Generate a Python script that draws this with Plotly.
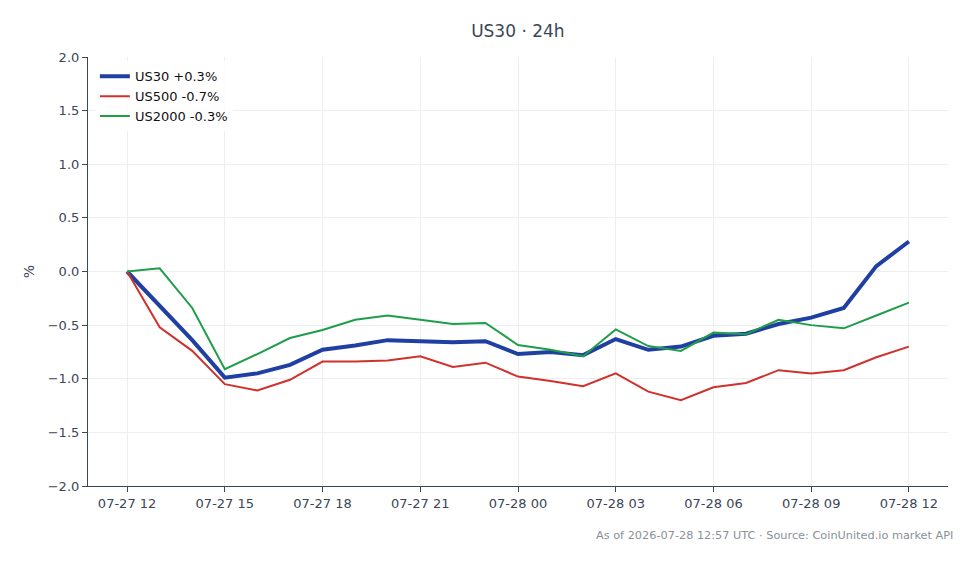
import plotly.graph_objects as go
import pandas as pd

times = pd.date_range("2026-07-27 12:00", "2026-07-28 12:00", freq="h")
us30 = [0.0, -0.32, -0.64, -0.99, -0.95, -0.87, -0.73, -0.69, -0.64, -0.65, -0.66, -0.65,
        -0.77, -0.75, -0.78, -0.63, -0.73, -0.70, -0.60, -0.58, -0.49, -0.43, -0.34, 0.05, 0.28]
us500 = [0.0, -0.52, -0.74, -1.05, -1.11, -1.01, -0.84, -0.84, -0.83, -0.79, -0.89, -0.85,
         -0.98, -1.02, -1.07, -0.95, -1.12, -1.20, -1.08, -1.04, -0.92, -0.95, -0.92, -0.80, -0.70]
us2000 = [0.0, 0.03, -0.34, -0.91, -0.77, -0.62, -0.545, -0.45, -0.41, -0.45, -0.49, -0.48,
          -0.685, -0.73, -0.79, -0.54, -0.695, -0.74, -0.57, -0.585, -0.45, -0.50, -0.53, -0.41, -0.29]
names = ["US30 +0.3%", "US500 -0.7%", "US2000 -0.3%"]
colors = ["#1f3fa3", "#d0312d", "#1f9d49"]
widths = [4, 2, 2]

FONT = "DejaVu Sans"
fig = go.Figure()
for vals, nm, c, w in zip([us30, us500, us2000], names, colors, widths):
    fig.add_trace(go.Scatter(x=times, y=vals, mode="lines", name=nm,
                             line=dict(color=c, width=w)))

fig.add_shape(type="line", xref="paper", x0=0, x1=1, yref="y", y0=0, y1=0,
              line=dict(color="#8c99a8", width=1.2, dash="dash"), layer="below")

pad = pd.Timedelta(minutes=72)
fig.update_layout(
    width=979, height=564,
    margin=dict(l=88, r=31, t=57, b=78),
    paper_bgcolor="white", plot_bgcolor="white",
    font=dict(family=FONT, size=13, color="#3b4656"),
    title=dict(text="US30 · 24h", x=0.529, xanchor="center", y=0.945, yanchor="middle",
               font=dict(family=FONT, size=17, color="#3b4656")),
    showlegend=True,
    legend=dict(x=0.008, y=0.99, xanchor="left", yanchor="top", bgcolor="rgba(255,255,255,0.8)",
                font=dict(family=FONT, size=13, color="#111111"), tracegroupgap=0,
                itemwidth=30),
    xaxis=dict(range=[times[0] - pad, times[-1] + pad], tickformat="%m-%d %H",
               dtick=3 * 3600 * 1000, tick0=times[0],
               showgrid=True, gridcolor="#eceef1", gridwidth=1,
               showline=True, linecolor="#3b4656", linewidth=1.2,
               ticks="outside", ticklen=5, tickcolor="#3b4656",
               tickfont=dict(family=FONT, size=13, color="#3b4656"), zeroline=False),
    yaxis=dict(range=[-2, 2], dtick=0.5, tickformat=".1f",
               showgrid=True, gridcolor="#eceef1", gridwidth=1,
               showline=True, linecolor="#3b4656", linewidth=1.2,
               ticks="outside", ticklen=5, tickcolor="#3b4656",
               tickfont=dict(family=FONT, size=13, color="#3b4656"), zeroline=False,
               title=dict(text="%", standoff=9, font=dict(family=FONT, size=14, color="#3b4656"))),
)
fig.add_annotation(text="As of 2026-07-28 12:57 UTC · Source: CoinUnited.io market API",
                   xref="paper", yref="paper", x=1.008, y=-0.095, xanchor="right", yanchor="top",
                   showarrow=False, font=dict(family=FONT, size=11.3, color="#8a9099"))
fig.write_html("out.html")
